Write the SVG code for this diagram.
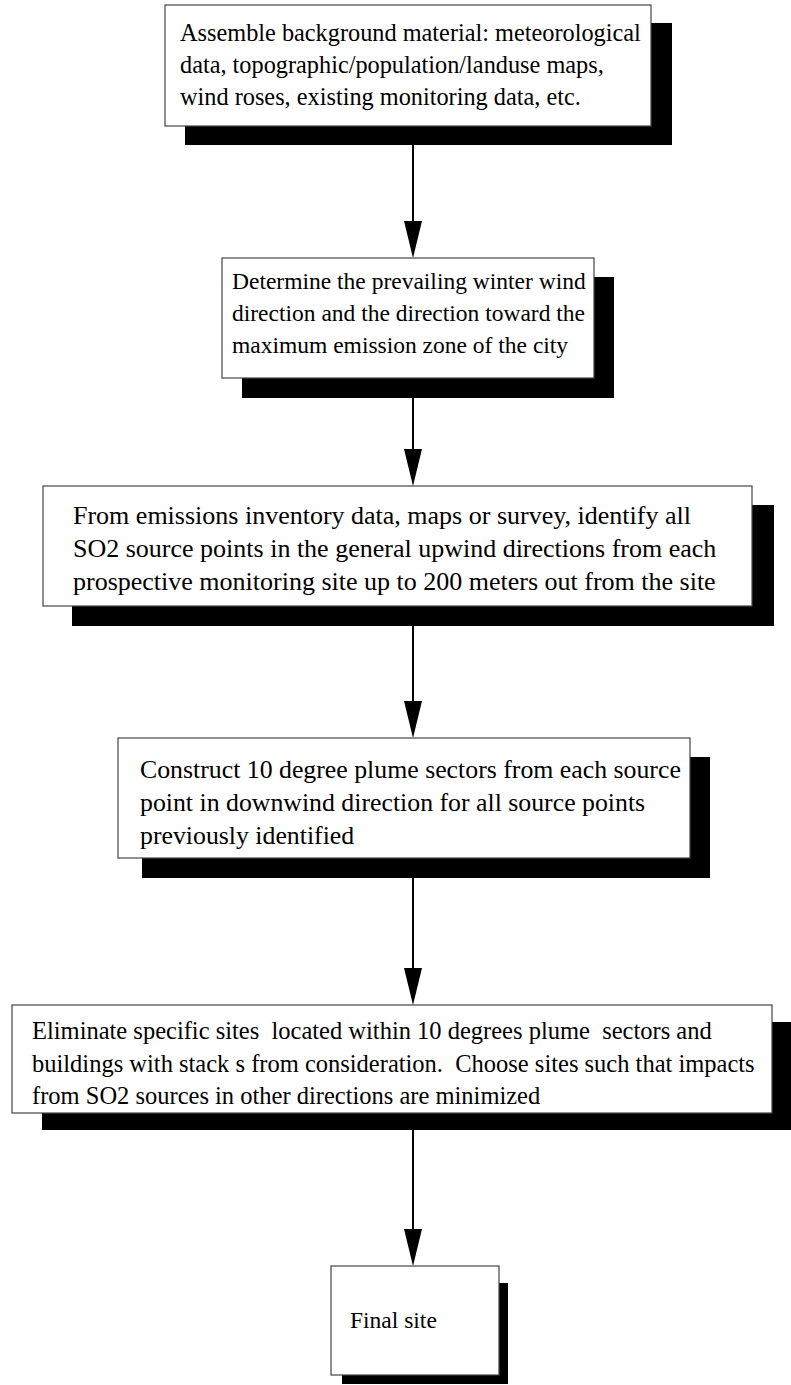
<svg xmlns="http://www.w3.org/2000/svg" width="791" height="1385" viewBox="0 0 791 1385">
  <style>
    .shadow { fill: #000; }
    .box { fill: #fff; stroke: #444; stroke-width: 1.2; }
    .label { font-family: "Liberation Serif", "Times New Roman", serif; font-size: 23.5px; fill: #000; }
    .s1 { font-size: 24.3px; }
    .s3 { font-size: 26px; }
    .s4 { font-size: 25.8px; }
    .s5 { font-size: 24.5px; }
    .link { stroke: #000; stroke-width: 2; fill: none; }
    .head { fill: #000; }
  </style>
  <rect width="791" height="1385" fill="#fff"/>

  <!-- connectors: shaft plus filled arrowhead -->
  <g id="connectors">
    <path class="link" d="M413,145 V228"/><path class="head" d="M404,221 H422 L413,258 Z"/>
    <path class="link" d="M413,398 V456"/><path class="head" d="M404,449 H422 L413,486 Z"/>
    <path class="link" d="M413,626 V708"/><path class="head" d="M404,701 H422 L413,738 Z"/>
    <path class="link" d="M413,878 V975"/><path class="head" d="M404,968 H422 L413,1005 Z"/>
    <path class="link" d="M413,1130 V1236"/><path class="head" d="M404,1229 H422 L413,1266 Z"/>
  </g>

  <!-- step 1 -->
  <g id="step-background">
    <rect class="shadow" x="185" y="23" width="487" height="122"/>
    <rect class="box" x="165" y="5" width="486" height="121"/>
    <text class="label s1" x="180" y="41">Assemble background material: meteorological</text>
    <text class="label s1" x="180" y="73">data, topographic/population/landuse maps,</text>
    <text class="label s1" x="180" y="105">wind roses, existing monitoring data, etc.</text>
  </g>

  <!-- step 2 -->
  <g id="step-wind">
    <rect class="shadow" x="242" y="277" width="372" height="121"/>
    <rect class="box" x="222" y="258" width="372" height="120"/>
    <text class="label" x="232" y="289">Determine the prevailing winter wind</text>
    <text class="label" x="232" y="321">direction and the direction toward the</text>
    <text class="label" x="232" y="353">maximum emission zone of the city</text>
  </g>

  <!-- step 3 -->
  <g id="step-sources">
    <rect class="shadow" x="72" y="505" width="702" height="121"/>
    <rect class="box" x="43" y="486" width="709" height="120"/>
    <text class="label s3" x="73" y="524">From emissions inventory data, maps or survey, identify all</text>
    <text class="label s3" x="73" y="557">SO2 source points in the general upwind directions from each</text>
    <text class="label s3" x="73" y="590">prospective monitoring site up to 200 meters out from the site</text>
  </g>

  <!-- step 4 -->
  <g id="step-plumes">
    <rect class="shadow" x="142" y="757" width="568" height="121"/>
    <rect class="box" x="118" y="738" width="572" height="120"/>
    <text class="label s4" x="140" y="778">Construct 10 degree plume sectors from each source</text>
    <text class="label s4" x="140" y="811">point in downwind direction for all source points</text>
    <text class="label s4" x="140" y="844">previously identified</text>
  </g>

  <!-- step 5 -->
  <g id="step-eliminate">
    <rect class="shadow" x="42" y="1022" width="749" height="108"/>
    <rect class="box" x="12" y="1005" width="760" height="108"/>
    <text class="label s5" x="32" y="1039" xml:space="preserve">Eliminate specific sites  located within 10 degrees plume  sectors and</text>
    <text class="label s5" x="32" y="1072" xml:space="preserve">buildings with stack s from consideration.  Choose sites such that impacts</text>
    <text class="label s5" x="32" y="1104">from SO2 sources in other directions are minimized</text>
  </g>

  <!-- final -->
  <g id="step-final">
    <rect class="shadow" x="342" y="1283" width="166" height="101"/>
    <rect class="box" x="331" y="1266" width="168" height="109"/>
    <text class="label" x="350" y="1328">Final site</text>
  </g>
</svg>
